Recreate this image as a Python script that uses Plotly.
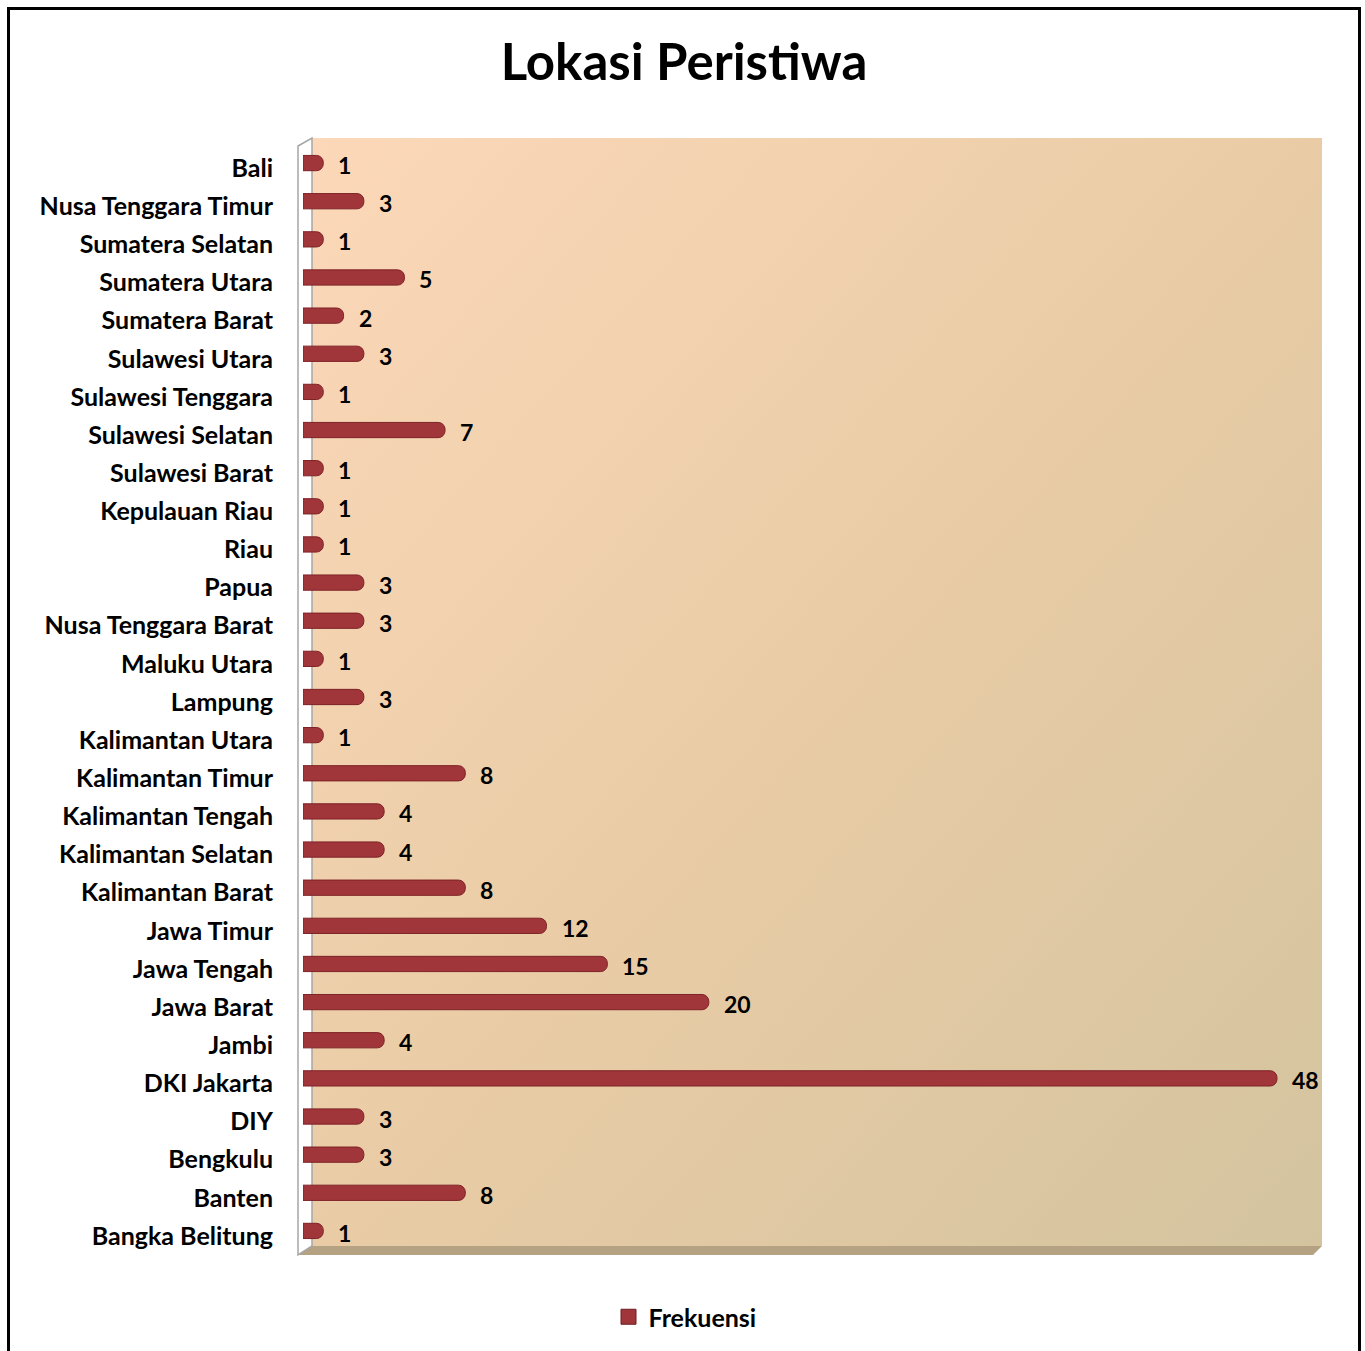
import base64
import plotly.graph_objects as go

# ---- data ----
categories = [
    "Bali", "Nusa Tenggara Timur", "Sumatera Selatan", "Sumatera Utara",
    "Sumatera Barat", "Sulawesi Utara", "Sulawesi Tenggara", "Sulawesi Selatan",
    "Sulawesi Barat", "Kepulauan Riau", "Riau", "Papua", "Nusa Tenggara Barat",
    "Maluku Utara", "Lampung", "Kalimantan Utara", "Kalimantan Timur",
    "Kalimantan Tengah", "Kalimantan Selatan", "Kalimantan Barat", "Jawa Timur",
    "Jawa Tengah", "Jawa Barat", "Jambi", "DKI Jakarta", "DIY", "Bengkulu",
    "Banten", "Bangka Belitung",
]
frekuensi = [1, 3, 1, 5, 2, 3, 1, 7, 1, 1, 1, 3, 3, 1, 3, 1, 8, 4, 4, 8,
             12, 15, 20, 4, 48, 3, 3, 8, 1]
series_name = "Frekuensi"
title_text = "Lokasi Peristiwa"

# ---- layout geometry (pixels) ----
W, H = 1365, 1351
L, R, T, B = 303, 43, 144, 100
PW = W - L - R
PH = H - T - B


def px(x):
    return (x - L) / PW


def py(y):
    return (H - B - y) / PH


FONT = "Lato"
BAR = "#A1363A"

svg = (
    '<svg xmlns="http://www.w3.org/2000/svg" width="100" height="100" '
    'viewBox="0 0 100 100" preserveAspectRatio="none">'
    '<defs><linearGradient id="g" x1="0" y1="0" x2="1" y2="1">'
    '<stop offset="0" stop-color="#FCD8B9"/>'
    '<stop offset="0.5" stop-color="#E9CCA6"/>'
    '<stop offset="1" stop-color="#D3C49F"/>'
    '</linearGradient></defs>'
    '<rect x="0" y="0" width="100" height="100" fill="url(#g)"/></svg>'
)
src = "data:image/svg+xml;base64," + base64.b64encode(svg.encode()).decode()

fig = go.Figure()
fig.add_trace(go.Bar(
    x=frekuensi, y=categories, orientation="h", name=series_name,
    marker=dict(color=BAR, line=dict(color="#7E2226", width=1), cornerradius="45%"),
    showlegend=False,
))
# legend entry with a square swatch
fig.add_trace(go.Scatter(
    x=[None], y=[None], mode="markers", name=series_name,
    marker=dict(symbol="square", size=15, color=BAR, line=dict(color="#6E1E22", width=1)),
    showlegend=True,
))

annotations = []
for c, v in zip(categories, frekuensi):
    annotations.append(dict(
        x=v, y=c, xref="x", yref="y", text=str(v), showarrow=False,
        xanchor="left", yanchor="middle", xshift=13, yshift=-2,
        font=dict(family=FONT, size=23, color="#000000", weight="bold"),
    ))

wall = (f"M {px(298)},{py(146)} L {px(312)},{py(138)} L {px(312)},{py(1247)} "
        f"L {px(298)},{py(1256)} Z")
floor = (f"M {px(312)},{py(1247)} L {px(1322)},{py(1247)} L {px(1313)},{py(1256)} "
         f"L {px(298)},{py(1256)} Z")

shapes = [
    dict(type="path", path=floor, xref="paper", yref="paper",
         fillcolor="#B4A283", line=dict(width=0), layer="below"),
    dict(type="path", path=wall, xref="paper", yref="paper",
         fillcolor="#FFFFFF", line=dict(color="#A6A6A6", width=1.5), layer="below"),
    dict(type="rect", xref="paper", yref="paper",
         x0=px(8.5), x1=px(1359.5), y0=py(8.5), y1=py(1400),
         line=dict(color="#000000", width=3), fillcolor="rgba(0,0,0,0)", layer="above"),
]

fig.update_layout(
    width=W, height=H,
    margin=dict(l=L, r=R, t=T, b=B),
    paper_bgcolor="#FFFFFF",
    plot_bgcolor="rgba(0,0,0,0)",
    font=dict(family=FONT, color="#000000"),
    title=dict(text=title_text, x=684 / W, xref="container", xanchor="center",
               y=1 - 62 / H, yref="container", yanchor="middle",
               font=dict(family=FONT, size=51, color="#000000", weight="bold")),
    bargap=0.6,
    xaxis=dict(range=[0, PW / ((1277 - 303) / 48)], showgrid=False, zeroline=False,
               showticklabels=False, ticks="", showline=False, fixedrange=True),
    yaxis=dict(categoryorder="array", categoryarray=categories, autorange="reversed",
               showgrid=False, zeroline=False, ticks="", showline=False,
               ticklabelstandoff=29, ticklabelshift=-5,
               tickfont=dict(family=FONT, size=25, color="#000000", weight="bold")),
    legend=dict(orientation="h", x=px(685), xanchor="center", y=py(1317),
                yanchor="middle", bgcolor="rgba(0,0,0,0)", itemwidth=30,
                font=dict(family=FONT, size=25, color="#000000", weight="bold")),
    images=[dict(source=src, xref="paper", yref="paper", x=px(312), y=py(138),
                 sizex=px(1322) - px(312), sizey=py(138) - py(1247),
                 xanchor="left", yanchor="top", sizing="stretch", layer="below")],
    shapes=shapes,
    annotations=annotations,
)

fig.write_html(
    "out.html",
    config={"displayModeBar": False},
    post_script="document.body.style.margin='0';document.body.style.overflow='hidden';",
)
